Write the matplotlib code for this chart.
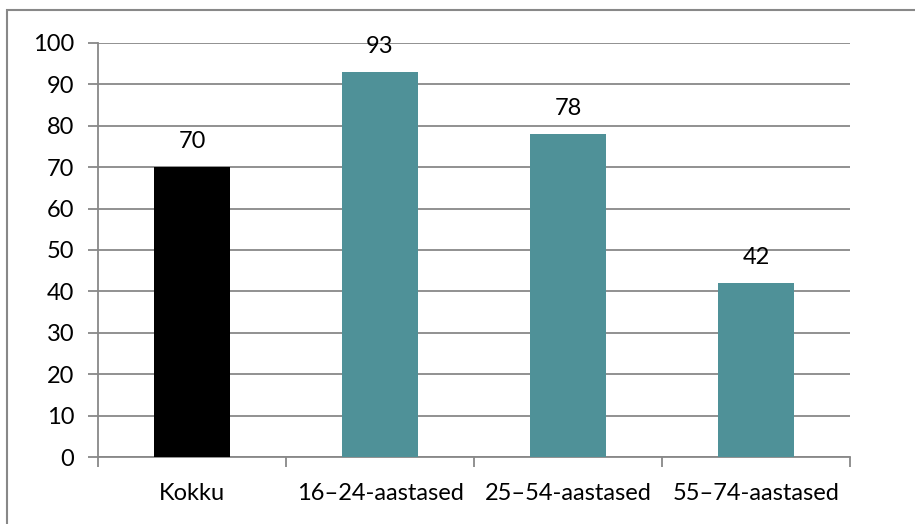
import matplotlib
matplotlib.use("Agg")
import matplotlib.pyplot as plt
from matplotlib.patches import Rectangle

categories = ["Kokku", "16–24-aastased", "25–54-aastased", "55–74-aastased"]
values = [70, 93, 78, 42]
colors = ["#000000", "#4F9198", "#4F9198", "#4F9198"]

plt.rcParams['font.family'] = ['Lato', 'DejaVu Sans']

fig = plt.figure(figsize=(9.15, 5.24), dpi=100)
ax = fig.add_axes([98 / 915, 1 - 457 / 524, (850 - 98) / 915, (457 - 43) / 524])

x = list(range(len(categories)))
ax.bar(x, values, width=0.4, color=colors, zorder=3)
for xi, v in zip(x, values):
    ax.text(xi, v + 3.6, str(v), ha="center", va="bottom", fontsize=17)

ax.set_xlim(-0.5, len(categories) - 0.5)
ax.set_ylim(0, 100)
ax.set_yticks(range(0, 101, 10))
ax.set_xticks(x)
ax.set_xticklabels(categories)
ax.set_xticks([i - 0.5 for i in range(len(categories) + 1)], minor=True)
ax.tick_params(axis="x", which="major", length=0, labelsize=17, pad=19)
ax.tick_params(axis="x", which="minor", length=7, color="#888888", width=1.3)
ax.tick_params(axis="y", length=7, color="#888888", width=1.3, labelsize=17, pad=10)
ax.grid(axis="y", color="#888888", linewidth=1.3, zorder=0)
for s in ["top", "right"]:
    ax.spines[s].set_visible(False)
for s in ["left", "bottom"]:
    ax.spines[s].set_color("#888888")
    ax.spines[s].set_linewidth(1.3)

# outer frame: only left and top edges fall inside the image
fig.patches.append(Rectangle((7 / 915, -0.1), 1.1, 1 - 10 / 524 + 0.1,
                             transform=fig.transFigure, fill=False,
                             edgecolor="#888888", linewidth=1.5))

fig.savefig("out.png", dpi=100)
